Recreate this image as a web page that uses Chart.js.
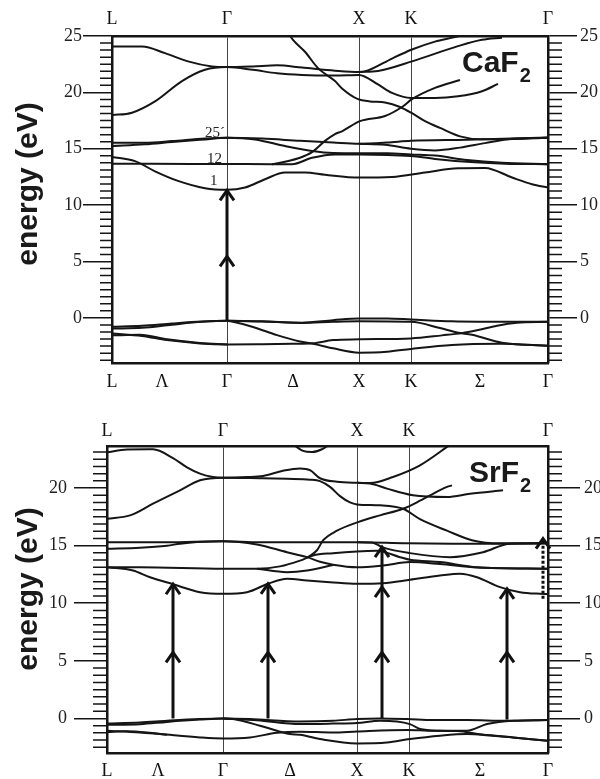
<!DOCTYPE html>
<html><head><meta charset="utf-8">
<script src="https://cdn.jsdelivr.net/npm/chart.js@4.4.1/dist/chart.umd.min.js"></script>
<style>
html,body{margin:0;padding:0;background:#fff;width:600px;height:779px;overflow:hidden}
canvas{position:absolute;left:0}
#c1{top:0}
#c2{top:395px}
</style></head><body>
<canvas id="c1" width="600" height="395"></canvas>
<canvas id="c2" width="600" height="384"></canvas>
<script>
// ===== CaF2 (upper panel) =====
const caTopTickK = [0, 115, 247, 299, 436];
const caTopTickLabels = ['L', 'Γ', 'X', 'K', 'Γ'];
const caBotTickK = [0, 50, 115, 181, 247, 299, 368, 436];
const caBotTickLabels = ['L', 'Λ', 'Γ', 'Δ', 'X', 'K', 'Σ', 'Γ'];
const caYTicks = [0, 5, 10, 15, 20, 25];
// bands: [k, energy eV]
const caA = [[0,24.07],[30,24.07],[53,23.48],[76,22.75],[100,22.3],[115,22.24],[141,22.3],[165,22.4],[190,22.2],[223,21.92],[247,21.8],[256,21.95],[280,23.0],[300,23.8],[323,24.5],[343,24.9],[355,25.2]];
const caB = [[0,17.98],[20,18.2],[43,19.2],[70,21.0],[93,22.0],[115,22.24],[141,22.0],[165,21.7],[190,21.55],[223,21.5],[247,21.55],[266,20.7],[280,19.95],[299,19.5],[323,19.5],[346,19.65],[370,20.1],[386,20.75]];
const caC = [[247,21.8],[266,21.9],[300,22.75],[346,24.1],[370,24.66],[390,24.85]];
const caD = [[176,25.3],[181,24.66],[193,23.6],[206,22.15],[223,21.0],[230,20.35],[246,19.4],[258,19.2],[273,19.1],[288,18.7],[300,18.15],[313,17.45],[328,16.85],[348,16.1],[368,15.85],[390,15.85],[436,15.98]];
const caR = [[160,13.63],[173,13.85],[188,14.2],[200,14.7],[213,15.7],[223,16.3],[230,16.55],[248,17.45],[273,17.9],[290,18.7],[300,19.4],[323,20.4],[348,21.1]];
const ca1 = [[0,14.27],[23,13.9],[43,13.0],[66,12.15],[93,11.5],[115,11.36],[133,11.56],[153,12.3],[173,12.9],[193,12.9],[213,12.7],[247,12.45],[280,12.5],[313,12.9],[346,13.27],[373,13.3],[400,12.45],[420,11.86],[436,11.56]];
const ca12 = [[0,13.68],[40,13.66],[115,13.65],[160,13.63],[180,13.63],[200,14.2],[223,14.5],[247,14.5],[299,14.36],[323,14.1],[363,13.8],[393,13.68],[436,13.63]];
const ca25a = [[0,15.53],[33,15.53],[60,15.68],[93,15.92],[115,15.98],[150,15.9],[188,15.7],[221,15.55],[247,15.45],[275,15.55],[299,15.7],[355,15.8],[436,16.0]];
const ca25b = [[0,15.24],[33,15.4],[60,15.6],[93,15.83],[115,15.98],[143,15.83],[173,15.24],[200,14.8],[221,14.62],[247,14.6],[275,14.6],[299,14.5],[323,14.4],[355,14.0],[390,13.75],[436,13.63]];
const ca25c = [[247,15.45],[273,15.35],[299,15.0],[323,14.85],[348,15.1],[373,15.5],[400,15.88],[436,15.98]];
const caVa = [[0,-0.78],[30,-0.7],[60,-0.5],[90,-0.33],[115,-0.26],[150,-0.33],[190,-0.42],[221,-0.2],[247,-0.05],[275,-0.05],[299,-0.14],[340,-0.3],[400,-0.35],[436,-0.35]];
const caVb = [[0,-0.95],[30,-0.88],[60,-0.6],[90,-0.35],[115,-0.26],[121,-0.35],[141,-0.8],[165,-1.53],[188,-2.1],[201,-2.3],[221,-2.7],[247,-3.08],[275,-3.0],[299,-2.75],[340,-2.4],[388,-2.3],[436,-2.47]];
const caVc = [[0,-1.38],[30,-1.6],[55,-1.97],[88,-2.26],[115,-2.35],[150,-2.33],[180,-2.3],[201,-2.25],[221,-1.97],[247,-1.9],[299,-1.82],[330,-1.55],[350,-1.35],[365,-1.1],[385,-0.7],[405,-0.44],[436,-0.35]];
const caVd = [[0,-1.55],[28,-1.5],[55,-1.9],[88,-2.22],[115,-2.35]];
const caVe = [[115,-0.26],[150,-0.3],[190,-0.45],[221,-0.35],[247,-0.3],[299,-0.35],[328,-0.9],[345,-1.3],[360,-1.5],[390,-2.2],[436,-2.47]];
const caArrowK = [115];
const caArrowFrom = [-0.25];
const caArrowTo = [11.3];
const caArrowHeads = [[5.45, 11.3]];
const caBandLabels = ['25´', '12', '1'];
const caBandLabelK = [93, 95, 98];
const caBandLabelE = [16.04, 13.74, 11.8];

// ===== SrF2 (lower panel) =====
const srTopTickK = [0, 116, 250, 302, 441];
const srTopTickLabels = ['L', 'Γ', 'X', 'K', 'Γ'];
const srBotTickK = [0, 51, 116, 183, 250, 302, 373, 441];
const srBotTickLabels = ['L', 'Λ', 'Γ', 'Δ', 'X', 'K', 'Σ', 'Γ'];
const srYTicks = [0, 5, 10, 15, 20];
const srA = [[0,23.1],[20,23.35],[46,23.36],[66,22.6],[80,21.8],[93,21.25],[106,20.96],[116,20.9],[140,20.95],[156,21.05],[176,21.5],[193,21.7],[203,21.55],[213,20.85],[230,20.55],[250,20.45],[263,20.43],[286,20.96],[313,21.97],[340,23.57],[350,24.2]];
const srB = [[0,17.34],[23,17.63],[46,18.64],[73,19.8],[93,20.67],[116,20.9],[153,20.85],[180,20.8],[203,20.73],[213,20.6],[223,20.1],[233,19.3],[243,18.75],[250,18.58],[273,18.5],[296,18.2],[313,17.3],[340,16.3],[366,15.45],[393,15.2],[441,15.2]];
const srC = [[250,20.45],[263,20.39],[280,19.95],[306,19.37],[340,19.22],[363,19.5],[396,19.8]];
const srU = [[183,24.0],[196,23.23],[205,23.13],[215,23.37],[226,24.0]];
const srR = [[200,13.95],[210,14.6],[216,15.45],[230,16.3],[251,17.04],[273,17.63],[296,18.2],[313,18.9],[323,19.37],[340,20.1],[345,20.23]];
const sr25a = [[0,15.3],[60,15.3],[116,15.39],[153,15.3],[223,15.3],[250,15.3],[300,15.2],[346,15.17],[400,15.17],[441,15.2]];
const sr25b = [[0,14.73],[33,14.82],[60,15.0],[73,15.17],[90,15.32],[116,15.39],[150,15.1],[180,14.43],[200,14.0],[213,13.6],[226,13.35],[250,13.13],[276,13.28],[303,13.57],[333,13.4],[370,13.1],[441,13.0]];
const sr12 = [[0,13.13],[33,13.13],[116,13.0],[150,13.0],[173,13.2],[193,13.7],[206,14.15],[226,14.35],[250,14.5],[270,14.55],[293,14.0],[303,13.77],[333,13.57],[370,13.13],[441,13.0]];
const srL = [[150,13.0],[180,12.7],[200,12.84],[226,13.32]];
const srM = [[250,15.3],[265,15.28],[275,14.87],[303,14.35],[343,14.0],[376,14.43],[403,15.17],[441,15.2]];
const sr1 = [[0,13.13],[26,12.84],[43,12.26],[66,11.65],[93,10.96],[116,10.82],[140,10.96],[161,11.69],[180,12.12],[200,11.97],[223,11.83],[250,11.69],[276,11.74],[303,12.04],[333,12.4],[353,12.56],[370,12.26],[393,11.4],[413,10.96],[433,10.82],[441,10.8]];
const srVa = [[0,-0.43],[33,-0.35],[60,-0.2],[93,-0.05],[116,0.0],[143,-0.05],[193,-0.26],[226,-0.2],[250,-0.05],[273,0.0],[300,-0.05],[326,-0.14],[360,-0.14],[400,-0.2],[441,-0.14]];
const srVb = [[0,-0.55],[33,-0.5],[60,-0.3],[93,-0.1],[116,0.0],[126,-0.05],[153,-0.63],[170,-1.07],[183,-1.36],[193,-1.42],[213,-1.79],[250,-2.17],[280,-2.09],[303,-1.79],[333,-1.5],[360,-1.36],[380,-1.45],[406,-1.65],[441,-1.94]];
const srVc = [[0,-1.07],[33,-1.22],[53,-1.36],[93,-1.65],[116,-1.74],[143,-1.65],[170,-1.25],[193,-1.15],[226,-1.22],[250,-1.13],[300,-1.0],[326,-1.07],[360,-1.07],[380,-0.49],[406,-0.2],[441,-0.14]];
const srVd = [[116,0.0],[150,-0.15],[193,-0.49],[226,-0.45],[250,-0.4],[273,-0.2],[303,-0.49],[313,-0.92],[333,-1.07],[350,-1.1],[375,-1.4],[406,-1.65],[441,-1.94]];
const srVe = [[0,-1.17],[20,-1.12],[40,-1.22],[60,-1.42]];
const srArrowK = [66, 161, 275, 400];
const srArrowFrom = [0, 0, 0, -0.1];
const srArrowTo = [11.65, 11.69, 14.87, 11.25];
const srArrowHeads = [[5.74, 11.65], [5.74, 11.69], [5.74, 11.39, 14.87], [5.74, 11.25]];
const srDotK = [436];
const srDotFrom = [10.4];
const srDotTo = [15.6];

// ===== drawing =====
const INK = '#151515';
const SERIF = '"Liberation Serif", "DejaVu Serif", serif';
const SANS = '"Liberation Sans", Arial, sans-serif';

function bandSet(arr) {
  return { data: arr.map(p => ({ x: p[0], y: p[1] })), borderColor: INK, borderWidth: 2,
    pointRadius: 0, pointHoverRadius: 0, showLine: true, fill: false,
    cubicInterpolationMode: 'monotone', xAxisID: 'x', yAxisID: 'y' };
}

function chevron(ctx, px, py) {
  ctx.beginPath();
  ctx.moveTo(px - 7, py + 10); ctx.lineTo(px, py); ctx.lineTo(px + 7, py + 10);
  ctx.stroke();
}

function makePanel(id, P) {
  const extras = {
    id: 'extras',
    afterDatasetsDraw(chart) {
      const ctx = chart.ctx, xs = chart.scales.x, ys = chart.scales.y, ca = chart.chartArea;
      ctx.save();
      // minor ticks
      ctx.strokeStyle = INK; ctx.lineWidth = 1.5;
      for (let i = Math.ceil(P.yMin / 0.625); i * 0.625 <= P.yMax + 1e-9; i++) {
        const v = i * 0.625;
        if (Math.abs(v / 5 - Math.round(v / 5)) < 1e-9) continue;
        const py = ys.getPixelForValue(v);
        ctx.beginPath();
        ctx.moveTo(ca.left - P.minL, py); ctx.lineTo(ca.left, py);
        ctx.moveTo(ca.right, py); ctx.lineTo(ca.right + P.minR, py);
        ctx.stroke();
      }
      // arrows
      ctx.lineWidth = 3; ctx.strokeStyle = '#111'; ctx.lineJoin = 'miter'; ctx.lineCap = 'butt';
      P.arrowK.forEach((k, i) => {
        const px = xs.getPixelForValue(k);
        ctx.beginPath();
        ctx.moveTo(px, ys.getPixelForValue(P.arrowFrom[i]));
        ctx.lineTo(px, ys.getPixelForValue(P.arrowTo[i]) + 1);
        ctx.stroke();
        P.arrowHeads[i].forEach(h => chevron(ctx, px, ys.getPixelForValue(h)));
      });
      // dotted arrows
      (P.dotK || []).forEach((k, i) => {
        const px = xs.getPixelForValue(k);
        ctx.setLineDash([3, 2]);
        ctx.beginPath();
        ctx.moveTo(px, ys.getPixelForValue(P.dotFrom[i]));
        ctx.lineTo(px, ys.getPixelForValue(P.dotTo[i]) + 2);
        ctx.stroke();
        ctx.setLineDash([]);
        chevron(ctx, px, ys.getPixelForValue(P.dotTo[i]));
      });
      // band labels
      ctx.fillStyle = '#222';
      ctx.font = '15px ' + SERIF;
      ctx.textAlign = 'left'; ctx.textBaseline = 'alphabetic';
      (P.bandLabels || []).forEach((t, i) => {
        ctx.fillText(t, xs.getPixelForValue(P.bandLabelK[i]), ys.getPixelForValue(P.bandLabelE[i]));
      });
      // compound name
      ctx.fillStyle = '#1a1a1a';
      ctx.font = 'bold 30px ' + SANS;
      ctx.fillText(P.name, P.nameX, P.nameY);
      const w = ctx.measureText(P.name).width;
      ctx.font = 'bold 20px ' + SANS;
      ctx.fillText(P.sub, P.nameX + w + 1, P.nameY + 10);
      // y title
      ctx.save();
      ctx.translate(P.titleX, P.titleY);
      ctx.rotate(-Math.PI / 2);
      ctx.font = 'bold 30px ' + SANS;
      ctx.textAlign = 'center';
      ctx.fillText('energy (eV)', 0, 0);
      ctx.restore();
      ctx.restore();
    }
  };
  const xTickFont = { family: SERIF, size: 18 };
  return new Chart(document.getElementById(id), {
    type: 'scatter',
    data: { datasets: P.bands.map(bandSet) },
    options: {
      responsive: false, animation: false, events: [],
      layout: { padding: 0 },
      plugins: { legend: { display: false }, tooltip: { enabled: false } },
      scales: {
        x: { type: 'linear', position: 'bottom', min: 0, max: P.kMax,
          afterBuildTicks: s => { s.ticks = P.botK.map(v => ({ value: v })); },
          afterFit: s => { s.height = P.botH; },
          ticks: { autoSkip: false, maxRotation: 0, padding: P.botPad, color: '#111', font: xTickFont,
            callback: (v, i) => P.botLabels[i] },
          grid: { display: false, drawTicks: false },
          border: { display: true, color: INK, width: 2.5 } },
        x2: { type: 'linear', position: 'top', min: 0, max: P.kMax,
          afterBuildTicks: s => { s.ticks = P.topK.map(v => ({ value: v })); },
          afterFit: s => { s.height = P.topH; },
          ticks: { autoSkip: false, maxRotation: 0, padding: P.topPad, color: '#111', font: xTickFont,
            callback: (v, i) => P.topLabels[i] },
          grid: { display: true, drawOnChartArea: true, drawTicks: false, color: '#444', lineWidth: 1 },
          border: { display: true, color: INK, width: 2.5 } },
        y: { type: 'linear', position: 'left', min: P.yMin, max: P.yMax,
          afterBuildTicks: s => { s.ticks = P.yTicks.map(v => ({ value: v })); },
          afterFit: s => { s.width = P.leftW; },
          ticks: { autoSkip: false, padding: P.leftPad, color: '#222', font: { family: SERIF, size: 18 },
            callback: v => String(v) },
          grid: { display: true, drawOnChartArea: false, drawTicks: true, tickLength: P.majL, color: INK, lineWidth: 1.5 },
          border: { display: true, color: INK, width: 2.5 } },
        yR: { type: 'linear', position: 'right', min: P.yMin, max: P.yMax,
          afterBuildTicks: s => { s.ticks = P.yTicks.map(v => ({ value: v })); },
          afterFit: s => { s.width = P.rightW; },
          ticks: { autoSkip: false, padding: P.rightPad, color: '#222', font: { family: SERIF, size: 18 },
            callback: v => String(v) },
          grid: { display: true, drawOnChartArea: false, drawTicks: true, tickLength: P.majR, color: INK, lineWidth: 1.5 },
          border: { display: true, color: INK, width: 2.5 } }
      }
    },
    plugins: [extras]
  });
}

makePanel('c1', {
  bands: [caA, caB, caC, caD, caR, ca1, ca12, ca25a, ca25b, ca25c, caVa, caVb, caVc, caVd, caVe],
  kMax: 436, yMin: -4, yMax: 25, yTicks: caYTicks,
  topK: caTopTickK, topLabels: caTopTickLabels, botK: caBotTickK, botLabels: caBotTickLabels,
  leftW: 112, rightW: 52, topH: 36, botH: 32,
  topPad: 6, botPad: 8, leftPad: 1, rightPad: 3, majL: 29, majR: 29, minL: 12, minR: 14,
  arrowK: caArrowK, arrowFrom: caArrowFrom, arrowTo: caArrowTo, arrowHeads: caArrowHeads,
  bandLabels: caBandLabels, bandLabelK: caBandLabelK, bandLabelE: caBandLabelE,
  name: 'CaF', sub: '2', nameX: 462, nameY: 72, titleX: 37, titleY: 184
});

makePanel('c2', {
  bands: [srA, srB, srC, srU, srR, sr25a, sr25b, sr12, srL, srM, sr1, srVa, srVb, srVc, srVd, srVe],
  kMax: 441, yMin: -3, yMax: 23.65, yTicks: srYTicks,
  topK: srTopTickK, topLabels: srTopTickLabels, botK: srBotTickK, botLabels: srBotTickLabels,
  leftW: 107, rightW: 52, topH: 51, botH: 26,
  topPad: 4, botPad: 7, leftPad: 7, rightPad: 4, majL: 33, majR: 32, minL: 14, minR: 14,
  arrowK: srArrowK, arrowFrom: srArrowFrom, arrowTo: srArrowTo, arrowHeads: srArrowHeads,
  dotK: srDotK, dotFrom: srDotFrom, dotTo: srDotTo,
  name: 'SrF', sub: '2', nameX: 469, nameY: 87, titleX: 37, titleY: 194
});
</script>
</body></html>
